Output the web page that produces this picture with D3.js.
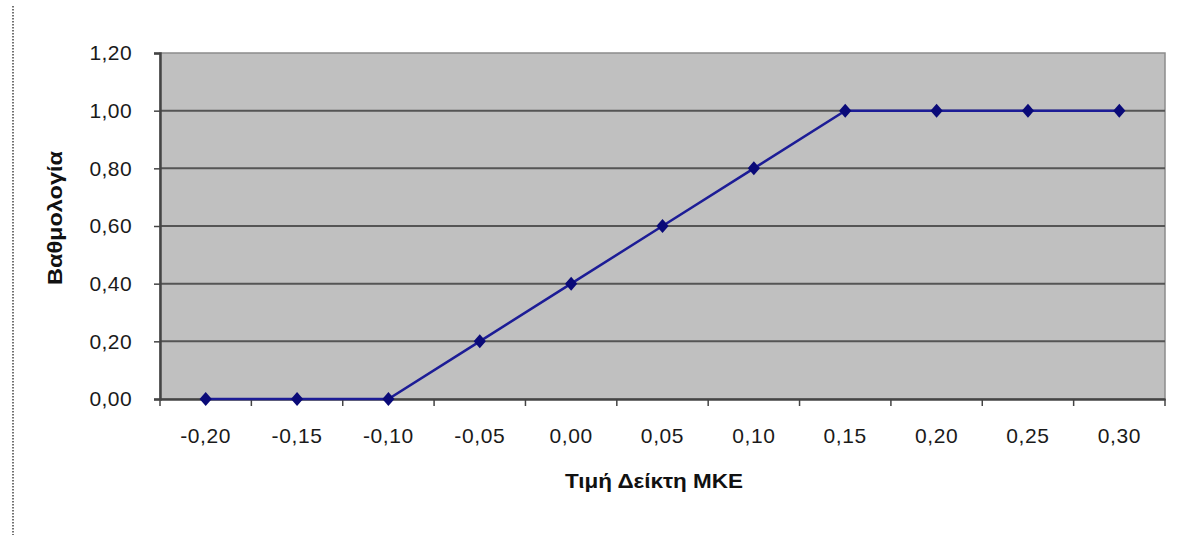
<!DOCTYPE html>
<html>
<head>
<meta charset="utf-8">
<script src="https://cdn.jsdelivr.net/npm/d3@7"></script>
<style>
html,body{margin:0;padding:0;background:#fff;}
svg{display:block;}
text{font-family:"Liberation Sans",Arial,sans-serif;}
</style>
</head>
<body>
<svg id="chart" width="1181" height="535"></svg>
<script>
const categories = ["-0,20","-0,15","-0,10","-0,05","0,00","0,05","0,10","0,15","0,20","0,25","0,30"];
const values = [0, 0, 0, 0.2, 0.4, 0.6, 0.8, 1.0, 1.0, 1.0, 1.0];
const yTicks = [0, 0.2, 0.4, 0.6, 0.8, 1.0, 1.2];
const xTitle = "Τιμή Δείκτη ΜΚΕ";
const yTitle = "Βαθμολογία";

const svg = d3.select("#chart");
const L = 160, R = 1165, T = 53, B = 399;

// left dotted border
svg.append("line").attr("x1",13).attr("x2",13).attr("y1",6).attr("y2",535)
  .attr("stroke","#444").attr("stroke-width",1.5).attr("stroke-dasharray","1.5,1.5");

const x = d3.scaleBand().domain(categories).range([L, R]).padding(0);
const y = d3.scaleLinear().domain([0, 1.2]).range([B, T]);

// plot background
svg.append("rect").attr("x",L).attr("y",T).attr("width",R-L).attr("height",B-T)
  .attr("fill","#c0c0c0").attr("stroke","#8c8c8c").attr("stroke-width",1.5);

// gridlines
svg.append("g").selectAll("line").data(yTicks.filter(d=>d>0 && d<1.2)).join("line")
  .attr("x1",L).attr("x2",R).attr("y1",d=>y(d)).attr("y2",d=>y(d))
  .attr("stroke","#555").attr("stroke-width",2);

// y axis
const fmt = d => d3.format(".2f")(d).replace(".", ",");
const yAxis = svg.append("g").attr("transform",`translate(${L},0)`)
  .call(d3.axisLeft(y).tickValues(yTicks).tickFormat(fmt).tickSize(6).tickPadding(22));
yAxis.select(".domain").attr("stroke","#444").attr("stroke-width",2.5);
yAxis.selectAll(".tick line").attr("stroke","#444").attr("stroke-width",1.5);
yAxis.selectAll(".tick text").attr("font-size",21).attr("letter-spacing","0.4px")
  .attr("fill","#1a1a1a").attr("font-family","Liberation Sans, Arial, sans-serif");

// x axis
const xAxis = svg.append("g").attr("transform",`translate(0,${B})`)
  .call(d3.axisBottom(x).tickSize(0).tickPadding(0));
xAxis.select(".domain").attr("stroke","#444").attr("stroke-width",2.5);
xAxis.selectAll(".tick text").attr("font-size",21).attr("letter-spacing","0.6px")
  .attr("fill","#1a1a1a").attr("dy",null).attr("y",44)
  .attr("font-family","Liberation Sans, Arial, sans-serif");
// tick marks between categories
const boundaries = categories.map(c => x(c)).concat([x(categories[categories.length-1]) + x.bandwidth()]);
xAxis.append("g").selectAll("line").data(boundaries).join("line")
  .attr("x1",d=>d).attr("x2",d=>d).attr("y1",0).attr("y2",7)
  .attr("stroke","#444").attr("stroke-width",1.5);

// line
const cx = c => x(c) + x.bandwidth()/2;
const pts = categories.map((c,i)=>[cx(c), y(values[i])]);
svg.append("path").datum(pts).attr("d", d3.line())
  .attr("fill","none").attr("stroke","#1c1c96").attr("stroke-width",2.5);

// diamond markers
svg.append("g").selectAll("path").data(pts).join("path")
  .attr("transform",d=>`translate(${d[0]},${d[1]}) scale(1,1.15)`)
  .attr("d", d3.symbol().type(d3.symbolDiamond2).size(95))
  .attr("fill","#0a0a78");

// titles
svg.append("text").attr("x",654).attr("y",488).attr("text-anchor","middle")
  .attr("font-size",20).attr("font-weight","bold").attr("fill","#111")
  .attr("textLength",178).attr("lengthAdjust","spacingAndGlyphs").text(xTitle);
svg.append("text").attr("transform","translate(62,218) rotate(-90)").attr("text-anchor","middle")
  .attr("font-size",20).attr("font-weight","bold").attr("fill","#111")
  .attr("textLength",134).attr("lengthAdjust","spacingAndGlyphs").text(yTitle);
</script>
</body>
</html>
